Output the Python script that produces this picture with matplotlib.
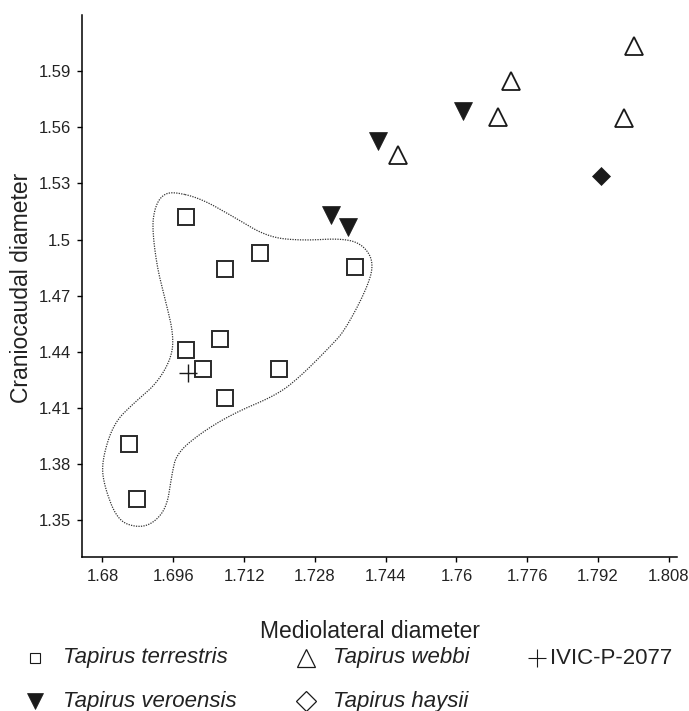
import matplotlib
matplotlib.use("Agg")
from matplotlib import pyplot as plt
from matplotlib.lines import Line2D
import numpy as np

plt.rcParams['font.family'] = ['Liberation Sans', 'DejaVu Sans']

# Tapirus terrestris
terrestris_x = [1.6989, 1.7076, 1.7156, 1.7370, 1.6989, 1.7066, 1.7027, 1.7200, 1.7076, 1.6859, 1.6878]
terrestris_y = [1.5121, 1.4841, 1.4927, 1.4855, 1.4409, 1.4467, 1.4308, 1.4308, 1.4151, 1.3907, 1.3612]
# Tapirus veroensis
veroensis_x = [1.7316, 1.7354, 1.7422, 1.7614]
veroensis_y = [1.5133, 1.5067, 1.5529, 1.5685]
# Tapirus webbi
webbi_x = [1.7467, 1.7694, 1.7723, 1.8002, 1.7979]
webbi_y = [1.5453, 1.5658, 1.5849, 1.6036, 1.5649]
# Tapirus haysii
haysii_x = [1.7926]
haysii_y = [1.5342]
# IVIC-P-2077
ivic_x = [1.6993]
ivic_y = [1.4285]

# dotted outline around T. terrestris
hull_x = [1.6960, 1.7021, 1.7096, 1.7172, 1.7247, 1.7345, 1.7390, 1.7414, 1.7396, 1.7348,
          1.7318, 1.7247, 1.7194, 1.7096, 1.7021, 1.6968, 1.6957, 1.6946, 1.6915, 1.6878,
          1.6833, 1.6802, 1.6799, 1.6825, 1.6870, 1.6923, 1.6957, 1.6960, 1.6942, 1.6923,
          1.6912, 1.6919, 1.6935]
hull_y = [1.5256, 1.5221, 1.5122, 1.5015, 1.4994, 1.5007, 1.4971, 1.4873, 1.4730, 1.4516,
          1.4436, 1.4267, 1.4169, 1.4071, 1.3964, 1.3857, 1.3750, 1.3571, 1.3482, 1.3459,
          1.3500, 1.3696, 1.3821, 1.4017, 1.4124, 1.4231, 1.4373, 1.4499, 1.4677, 1.4855,
          1.5069, 1.5176, 1.5238]

x_ticks = [1.68, 1.696, 1.712, 1.728, 1.744, 1.76, 1.776, 1.792, 1.808]
x_ticklabels = ['1.68', '1.696', '1.712', '1.728', '1.744', '1.76', '1.776', '1.792', '1.808']
y_ticks = [1.35, 1.38, 1.41, 1.44, 1.47, 1.5, 1.53, 1.56, 1.59]
y_ticklabels = ['1.35', '1.38', '1.41', '1.44', '1.47', '1.5', '1.53', '1.56', '1.59']

legend_labels = ['Tapirus terrestris', 'Tapirus webbi', 'IVIC-P-2077',
                 'Tapirus veroensis', 'Tapirus haysii']


def chaikin(xs, ys, n=3):
    # round off the corners of a closed outline
    p = np.column_stack([xs, ys])
    for _ in range(n):
        q = np.roll(p, -1, axis=0)
        p = np.column_stack([0.75 * p + 0.25 * q, 0.25 * p + 0.75 * q]).reshape(-1, 2)
    p = np.vstack([p, p[:1]])
    return p[:, 0], p[:, 1]


W, H = 689, 711
fig = plt.figure(figsize=(W / 100, H / 100), dpi=100)
ax = fig.add_axes([81.7 / W, 1 - 556.7 / H, (677.3 - 81.7) / W, (556.7 - 15) / H])

ink = '#1a1a1a'
sx, sy = chaikin(hull_x, hull_y)
ax.plot(sx, sy, linestyle=(0, (1, 1)), color='#333333', lw=0.9)
ax.plot(terrestris_x, terrestris_y, 's', ms=12.2, mfc='white', mec='#2a2a2a', mew=1.4, ls='none')
ax.plot(ivic_x, ivic_y, '+', ms=13, mec=ink, mew=1.0, ls='none')
ax.plot(veroensis_x, veroensis_y, 'v', ms=13.2, mfc=ink, mec=ink, mew=0.5, ls='none')
ax.plot(webbi_x, webbi_y, '^', ms=13.2, mfc='white', mec=ink, mew=1.3, ls='none')
ax.plot(haysii_x, haysii_y, 'D', ms=9.2, mfc=ink, mec=ink, mew=0.5, ls='none')

ax.set_xlim(1.6753, 1.8099)
ax.set_ylim(1.3304, 1.6201)
ax.set_xticks(x_ticks)
ax.set_xticklabels(x_ticklabels)
ax.set_yticks(y_ticks)
ax.set_yticklabels(y_ticklabels)
for s in ['top', 'right']:
    ax.spines[s].set_visible(False)
for s in ['left', 'bottom']:
    ax.spines[s].set_linewidth(1.1)
ax.tick_params(direction='out', length=3.6, width=1.0, labelsize=12, pad=4, colors='black')
ax.tick_params(axis='y', labelcolor='#222222')
ax.tick_params(axis='x', labelcolor='#222222', pad=5)

fig.text(370 / W, 1 - 631 / H, 'Mediolateral diameter', fontsize=16.5, ha='center', va='center', color='#222222')
fig.text(21.7 / W, 1 - 288 / H, 'Craniocaudal diameter', fontsize=16.5, ha='center', va='center',
         rotation=90, color='#222222')

# legend drawn by hand
rows = [658, 701]
leg = [
    (35, rows[0], 's', 7.2, 'white', 0.8, 63, legend_labels[0], 'italic'),
    (306, rows[0], '^', 12.5, 'white', 0.9, 333, legend_labels[1], 'italic'),
    (537, rows[0], '+', 13, 'none', 0.8, 550, legend_labels[2], 'normal'),
    (35, rows[1], 'v', 11.5, ink, 0.5, 63, legend_labels[3], 'italic'),
    (306, rows[1], 'D', 10.5, 'white', 0.9, 333, legend_labels[4], 'italic'),
]
for mx, my, mk, ms, fc, mw, tx, lab, style in leg:
    fig.add_artist(Line2D([mx / W], [1 - my / H], marker=mk, ms=ms, mfc=fc, mec=ink, mew=mw,
                          ls='none', transform=fig.transFigure))
    fig.text(tx / W, 1 - my / H, lab, fontsize=16, style=style, ha='left', va='center', color='#222222')

fig.savefig('out.png', dpi=100)
